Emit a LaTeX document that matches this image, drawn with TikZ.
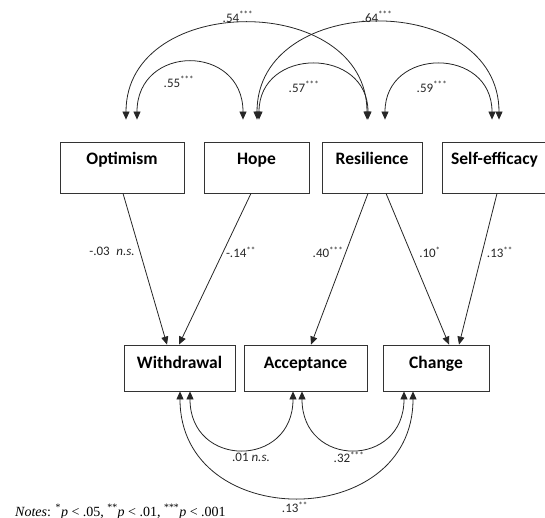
\documentclass[tikz,border=0pt]{standalone}
\usepackage{fontspec}
\setmainfont{Carlito}
\newfontfamily\notesfont{Liberation Serif}
\usetikzlibrary{arrows.meta}
\begin{document}
\begin{tikzpicture}[x=1pt,y=-1pt,
  box/.style={draw=black!80, line width=0.8pt, font=\fontsize{17.5}{20}\selectfont\bfseries, inner xsep=0pt, inner ysep=0pt, align=center},
  topbox/.style={box, text height=23pt, text depth=28pt},
  botbox/.style={box, text height=23pt, text depth=23pt},
  lbl/.style={font=\fontsize{13}{15}\selectfont, inner sep=0pt, text=black!85},
  arr/.style={draw=black!85, line width=0.8pt, -{Triangle[length=8pt,width=7pt]}},
  dbl/.style={draw=black!85, line width=0.8pt, {Triangle[length=8pt,width=7pt]}-{Triangle[length=8pt,width=7pt]}}]
\useasboundingbox (0,0) rectangle (545,518);
\clip (0,0) rectangle (545,518);
% top boxes
\node[topbox, minimum width=124pt] (opt) at (122,167.5) {Optimism};
\node[topbox, minimum width=105pt] (hope) at (256.5,167.5) {Hope};
\node[topbox, minimum width=100pt] (res) at (372,167.5) {Resilience};
\node[topbox, minimum width=105pt] (se) at (494.5,167.5) {Self-efficacy};
% bottom boxes
\node[botbox, minimum width=111pt] (wd) at (179.5,368) {Withdrawal};
\node[botbox, minimum width=123pt] (acc) at (305.5,368) {Acceptance};
\node[botbox, minimum width=106pt] (chg) at (436,368) {Change};
% regression paths
\draw[arr] ([xshift=1pt]opt.south) -- ([xshift=-12.5pt]wd.north);
\draw[arr] ([xshift=-5.5pt]hope.south) -- ([xshift=-0.5pt]wd.north);
\draw[arr] ([xshift=-4pt]res.south) -- ([xshift=5.5pt]acc.north);
\draw[arr] ([xshift=14pt]res.south) -- ([xshift=13pt]chg.north);
\draw[arr] ([xshift=2.5pt]se.south) -- ([xshift=23pt]chg.north);
% top correlations
\draw[dbl] ([xshift=4pt,yshift=22pt]opt.north) .. controls +(0,-128) and +(0,-128) .. ([xshift=-5pt,yshift=22pt]res.north);
\draw[dbl] ([xshift=15pt,yshift=22pt]opt.north) .. controls +(0,-76) and +(0,-76) .. ([xshift=-13.5pt,yshift=22pt]hope.north);
\draw[dbl] ([xshift=2.5pt,yshift=22pt]hope.north) .. controls +(0,-73) and +(0,-73) .. ([xshift=-4pt,yshift=22pt]res.north);
\draw[dbl] ([xshift=0.5pt,yshift=22pt]hope.north) .. controls +(0,-129) and +(0,-129) .. ([xshift=4.5pt,yshift=22pt]se.north);
\draw[dbl] ([xshift=13pt,yshift=22pt]res.north) .. controls +(0,-73) and +(0,-73) .. ([xshift=-2.5pt,yshift=22pt]se.north);
% bottom correlations
\draw[dbl] ([xshift=10.5pt]wd.south) .. controls +(0,77) and +(0,77) .. ([xshift=-12.5pt]acc.south);
\draw[dbl] ([xshift=-3.5pt]acc.south) .. controls +(0,77) and +(0,77) .. ([xshift=-32pt]chg.south);
\draw[dbl] ([xshift=0.5pt]wd.south) .. controls +(0,141) and +(0,141) .. ([xshift=-23pt]chg.south);
% labels
\node[lbl] (l54) at (238,17) {.54\textsuperscript{***}};
\node[lbl] (l55) at (179,82) {.55\textsuperscript{***}};
\node[lbl] (l57) at (304,87) {.57\textsuperscript{***}};
\node[lbl] (l64) at (377,17) {.64\textsuperscript{***}};
\node[lbl] (l59) at (432,87) {.59\textsuperscript{***}};
\node[lbl] (l03) at (112,251) {-.03\enspace\textit{n.s.}};
\node[lbl] (l14) at (241,252) {-.14\textsuperscript{**}};
\node[lbl] (l40) at (328,252) {.40\textsuperscript{***}};
\node[lbl] (l10) at (430,252) {.10\textsuperscript{*}};
\node[lbl] (l13a) at (500,252) {.13\textsuperscript{**}};
\node[lbl] (l01) at (251,457) {.01 \textit{n.s.}};
\node[lbl] (l32) at (349,457) {.32\textsuperscript{***}};
\node[lbl] (l13b) at (295,507) {.13\textsuperscript{**}};
\node[anchor=base west, font=\notesfont\fontsize{14}{16}\selectfont, inner sep=0pt] (notes) at (15,516) {\textit{Notes}: \textsuperscript{*}\textit{p} < .05, \textsuperscript{**}\textit{p} < .01, \textsuperscript{***}\textit{p} < .001};
\end{tikzpicture}
\end{document}
